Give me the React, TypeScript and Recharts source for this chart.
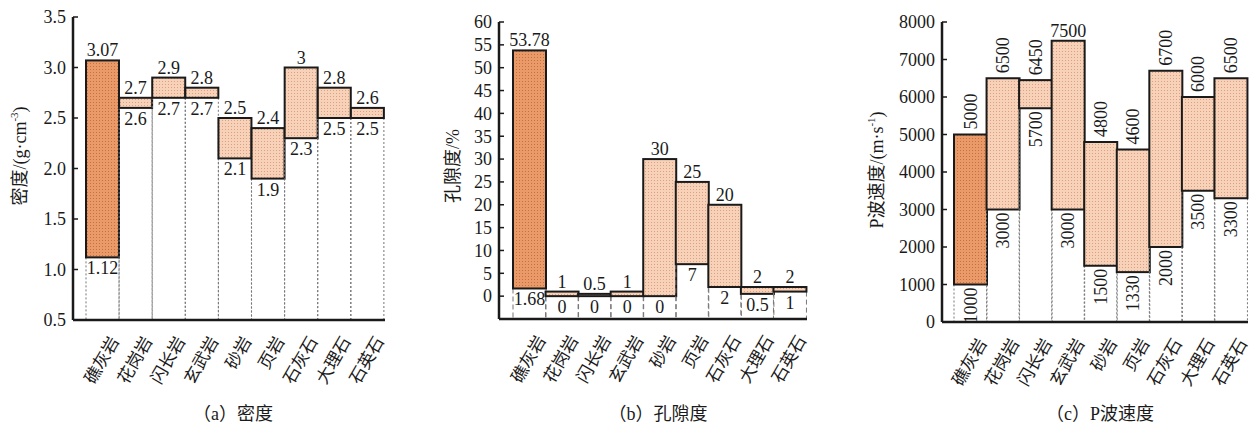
import React from 'react';
import { BarChart, Bar, XAxis, YAxis } from 'recharts';

/* ------------------------------------------------------------------ */
/* Data                                                                */
/* ------------------------------------------------------------------ */

const ROCKS = ['礁灰岩', '花岗岩', '闪长岩', '玄武岩', '砂岩', '页岩', '石灰石', '大理石', '石英石'];

const DENSITY_LOW = [1.12, 2.6, 2.7, 2.7, 2.1, 1.9, 2.3, 2.5, 2.5];
const DENSITY_HIGH = [3.07, 2.7, 2.9, 2.8, 2.5, 2.4, 3, 2.8, 2.6];
const DENSITY_TICKS = [0.5, 1, 1.5, 2, 2.5, 3, 3.5];

const POROSITY_LOW = [1.68, 0, 0, 0, 0, 7, 2, 0.5, 1];
const POROSITY_HIGH = [53.78, 1, 0.5, 1, 30, 25, 20, 2, 2];
const POROSITY_TICKS = [0, 5, 10, 15, 20, 25, 30, 35, 40, 45, 50, 55, 60];

const VP_LOW = [1000, 3000, 5700, 3000, 1500, 1330, 2000, 3500, 3300];
const VP_HIGH = [5000, 6500, 6450, 7500, 4800, 4600, 6700, 6000, 6500];
const VP_TICKS = [0, 1000, 2000, 3000, 4000, 5000, 6000, 7000, 8000];

/* ------------------------------------------------------------------ */
/* Constants                                                           */
/* ------------------------------------------------------------------ */

const FONT = "'Liberation Serif', 'Noto Sans CJK SC', serif";
const INK = '#1a1a1a';
const H = 427;
const AXIS_W = 40;
const XAXIS_H = 60;

function buildRows(low: number[], high: number[]) {
  return ROCKS.map((name, i) => ({ name, idx: i, low: low[i], high: high[i], range: [low[i], high[i]] }));
}

/* ------------------------------------------------------------------ */
/* Ticks                                                               */
/* ------------------------------------------------------------------ */

function CatTick(props: any) {
  const { x, y, payload } = props;
  const tx = x + 17;
  const ty = y + 21;
  return (
    <text
      x={tx}
      y={ty}
      transform={`rotate(-60, ${tx}, ${ty})`}
      textAnchor="end"
      fontSize={17}
      fill={INK}
      fontFamily={FONT}
    >
      {payload.value}
    </text>
  );
}

function makeValueTick(fmt: (v: number) => string) {
  return (props: any) => {
    const { x, y, payload } = props;
    return (
      <g>
        <line x1={x} y1={y} x2={x + 5} y2={y} stroke={INK} strokeWidth={1.5} />
        <text x={x - 7} y={y} dy="0.35em" textAnchor="end" fontSize={18} fill={INK} fontFamily={FONT}>
          {fmt(payload.value)}
        </text>
      </g>
    );
  };
}

/* ------------------------------------------------------------------ */
/* Range bar shape                                                     */
/* ------------------------------------------------------------------ */

interface ShapeOpts {
  id: string;
  dash: string;
  plotTop: number;
  plotBottom: number;
  rotated: boolean;
}

function makeShape(o: ShapeOpts) {
  return (props: any) => {
    const { x, y, width, height, payload } = props;
    const top = Math.min(y, y + height);
    const bottom = Math.max(y, y + height);
    const cx = x + width / 2;
    const fill = payload.idx === 0 ? `url(#${o.id}-dark)` : `url(#${o.id}-light)`;
    const hi = String(payload.high);
    const lo = String(payload.low);
    const txt = { fontSize: 18, fill: INK, fontFamily: FONT };

    let topLabel;
    let bottomLabel;
    if (o.rotated) {
      const len = hi.length * 9;
      if (top - 5 - len < o.plotTop) {
        topLabel = (
          <text x={cx} y={top - 4} textAnchor="middle" {...txt}>
            {hi}
          </text>
        );
      } else {
        topLabel = (
          <text
            x={cx}
            y={top - 5}
            transform={`rotate(-90, ${cx}, ${top - 5})`}
            textAnchor="start"
            dominantBaseline="central"
            {...txt}
          >
            {hi}
          </text>
        );
      }
      bottomLabel = (
        <text
          x={cx}
          y={bottom + 3}
          transform={`rotate(-90, ${cx}, ${bottom + 3})`}
          textAnchor="end"
          dominantBaseline="central"
          {...txt}
        >
          {lo}
        </text>
      );
    } else {
      topLabel = (
        <text x={cx} y={top - 4} textAnchor="middle" {...txt}>
          {hi}
        </text>
      );
      bottomLabel = (
        <text x={cx} y={bottom + 17} textAnchor="middle" {...txt}>
          {lo}
        </text>
      );
    }

    return (
      <g>
        <line x1={x} y1={bottom} x2={x} y2={o.plotBottom} stroke="#777" strokeWidth={1} strokeDasharray={o.dash} />
        <line
          x1={x + width}
          y1={bottom}
          x2={x + width}
          y2={o.plotBottom}
          stroke="#777"
          strokeWidth={1}
          strokeDasharray={o.dash}
        />
        <rect x={x} y={top} width={width} height={Math.max(bottom - top, 0.5)} fill={fill} stroke={INK} strokeWidth={2} />
        {topLabel}
        {bottomLabel}
      </g>
    );
  };
}

/* ------------------------------------------------------------------ */
/* Panel                                                               */
/* ------------------------------------------------------------------ */

interface PanelProps {
  id: string;
  left: number;
  width: number;
  plotLeft: number;
  plotRight: number;
  plotTop: number;
  plotBottom: number;
  padLeft: number;
  low: number[];
  high: number[];
  domain: [number, number];
  ticks: number[];
  fmt: (v: number) => string;
  dash: string;
  rotated?: boolean;
}

function Panel(p: PanelProps) {
  const data = buildRows(p.low, p.high);
  const margin = {
    top: p.plotTop,
    left: p.plotLeft - p.left - AXIS_W,
    right: p.left + p.width - p.plotRight,
    bottom: H - p.plotBottom - XAXIS_H,
  };
  const shape = makeShape({
    id: p.id,
    dash: p.dash,
    plotTop: p.plotTop,
    plotBottom: p.plotBottom,
    rotated: !!p.rotated,
  });
  return (
    <div style={{ position: 'absolute', left: p.left, top: 0 }}>
      <BarChart width={p.width} height={H} data={data} margin={margin} barCategoryGap={0} barGap={0}>
        <defs>
          <pattern id={`${p.id}-dark`} width={3} height={3} patternUnits="userSpaceOnUse">
            <rect width={3} height={3} fill="#EA9A68" />
            <rect width={1} height={1} fill="#C4703F" />
          </pattern>
          <pattern id={`${p.id}-light`} width={3} height={3} patternUnits="userSpaceOnUse">
            <rect width={3} height={3} fill="#F7D2B9" />
            <rect width={1} height={1} fill="#D9A182" />
          </pattern>
        </defs>
        <XAxis
          dataKey="name"
          height={XAXIS_H}
          padding={{ left: p.padLeft, right: 1 }}
          axisLine={{ stroke: INK, strokeWidth: 2.5 }}
          tickLine={false}
          tickSize={0}
          tickMargin={0}
          interval={0}
          tick={<CatTick />}
        />
        <YAxis
          width={AXIS_W}
          type="number"
          domain={p.domain}
          ticks={p.ticks}
          allowDataOverflow
          axisLine={{ stroke: INK, strokeWidth: 2.5 }}
          tickLine={false}
          tickSize={0}
          tickMargin={0}
          interval={0}
          tick={makeValueTick(p.fmt)}
        />
        <Bar dataKey="range" shape={shape} isAnimationActive={false} />
      </BarChart>
    </div>
  );
}

/* ------------------------------------------------------------------ */
/* App                                                                 */
/* ------------------------------------------------------------------ */

export default function App() {
  const titleStyle = { fontSize: 18, fill: INK, fontFamily: FONT };
  return (
    <div style={{ position: 'absolute', left: 0, top: 0, width: 1250, height: H, background: '#fff' }}>
      <Panel
        id="den"
        left={0}
        width={400}
        plotLeft={73}
        plotRight={385}
        plotTop={17}
        plotBottom={320}
        padLeft={13}
        low={DENSITY_LOW}
        high={DENSITY_HIGH}
        domain={[0.5, 3.5]}
        ticks={DENSITY_TICKS}
        fmt={(v) => v.toFixed(1)}
        dash="2 2"
      />
      <Panel
        id="por"
        left={420}
        width={410}
        plotLeft={499}
        plotRight={807}
        plotTop={22}
        plotBottom={319}
        padLeft={14}
        low={POROSITY_LOW}
        high={POROSITY_HIGH}
        domain={[-5, 60]}
        ticks={POROSITY_TICKS}
        fmt={(v) => String(v)}
        dash="5 3"
      />
      <Panel
        id="vp"
        left={840}
        width={410}
        plotLeft={942}
        plotRight={1248}
        plotTop={22}
        plotBottom={322}
        padLeft={12}
        low={VP_LOW}
        high={VP_HIGH}
        domain={[0, 8000]}
        ticks={VP_TICKS}
        fmt={(v) => String(v)}
        dash="2 2"
        rotated
      />
      <svg width={1250} height={H} style={{ position: 'absolute', left: 0, top: 0, pointerEvents: 'none' }}>
        <text x={20} y={156} transform="rotate(-90, 20, 156)" textAnchor="middle" dominantBaseline="central" {...titleStyle}>
          密度/(g·cm
          <tspan dy={-6} fontSize={11}>
            -3
          </tspan>
          <tspan dy={6}>)</tspan>
        </text>
        <text x={453} y={166} transform="rotate(-90, 453, 166)" textAnchor="middle" dominantBaseline="central" {...titleStyle}>
          孔隙度/%
        </text>
        <text x={877} y={170} transform="rotate(-90, 877, 170)" textAnchor="middle" dominantBaseline="central" {...titleStyle}>
          P波速度/(m·s
          <tspan dy={-6} fontSize={11}>
            -1
          </tspan>
          <tspan dy={6}>)</tspan>
        </text>
        <text x={233} y={420} textAnchor="middle" {...titleStyle}>
          （a）密度
        </text>
        <text x={658} y={420} textAnchor="middle" {...titleStyle}>
          （b）孔隙度
        </text>
        <text x={1100} y={420} textAnchor="middle" {...titleStyle}>
          （c）P波速度
        </text>
      </svg>
    </div>
  );
}
